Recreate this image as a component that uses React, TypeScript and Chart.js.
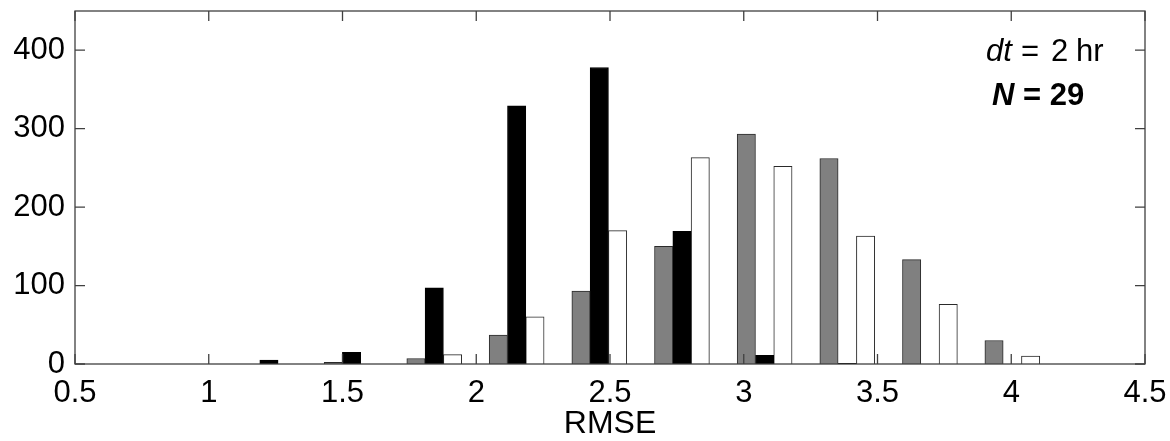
import React, { useEffect, useRef } from 'react';
import { Chart, registerables } from 'chart.js';

Chart.register(...registerables);

// Bin centers (RMSE) shared by the three histogram series
const binCenters = [1.225, 1.534, 1.843, 2.151, 2.46, 2.769, 3.078, 3.387, 3.696, 4.004];
const grayCounts = [0, 2, 7, 37, 93, 150, 293, 262, 133, 30];
const blackCounts = [5, 15, 97, 329, 378, 169, 11, 1, 0, 0];
const whiteCounts = [0, 0, 12, 60, 170, 263, 252, 163, 76, 10];

const xTickValues = [0.5, 1, 1.5, 2, 2.5, 3, 3.5, 4, 4.5];
const yTickValues = [0, 100, 200, 300, 400];
const xAxisTitle = 'RMSE';
const noteDtItalic = 'dt';
const noteDtRest = ['=', '2', 'hr'];
const noteNItalic = 'N';
const noteNRest = '= 29';

const FONT = '"Liberation Sans", Arial, Helvetica, sans-serif';

const toPoints = (vals: number[]) => vals.map((y, i) => ({ x: binCenters[i], y }));

const framePlugin = {
  id: 'frameTicks',
  afterDatasetsDraw(chart: any) {
    const { ctx, chartArea: a, scales } = chart;
    ctx.save();
    ctx.strokeStyle = '#404040';
    ctx.lineWidth = 1.3;
    ctx.strokeRect(a.left, a.top, a.right - a.left, a.bottom - a.top);
    const len = 10;
    ctx.beginPath();
    for (const v of xTickValues) {
      const px = scales.x.getPixelForValue(v);
      ctx.moveTo(px, a.bottom);
      ctx.lineTo(px, a.bottom - len);
      ctx.moveTo(px, a.top);
      ctx.lineTo(px, a.top + len);
    }
    for (const v of yTickValues) {
      const py = scales.y.getPixelForValue(v);
      ctx.moveTo(a.left, py);
      ctx.lineTo(a.left + len, py);
      ctx.moveTo(a.right, py);
      ctx.lineTo(a.right - len, py);
    }
    ctx.stroke();

    // annotations
    ctx.fillStyle = '#000';
    ctx.textBaseline = 'alphabetic';
    ctx.textAlign = 'left';
    const dtX = a.right - 159;
    const dtY = a.top + 50;
    ctx.font = `italic 31px ${FONT}`;
    ctx.fillText(noteDtItalic, dtX, dtY);
    ctx.font = `31px ${FONT}`;
    ctx.fillText(noteDtRest[0], dtX + 35, dtY);
    ctx.fillText(noteDtRest[1], dtX + 65, dtY);
    ctx.fillText(noteDtRest[2], dtX + 90, dtY);

    const nX = a.right - 153;
    const nY = a.top + 94;
    ctx.font = `italic bold 31px ${FONT}`;
    ctx.fillText(noteNItalic, nX, nY);
    const nw = ctx.measureText(noteNItalic + ' ').width;
    ctx.font = `bold 31px ${FONT}`;
    ctx.fillText(noteNRest, nX + nw, nY);
    ctx.restore();
  },
};

export default function App() {
  const canvasRef = useRef<HTMLCanvasElement | null>(null);

  useEffect(() => {
    const canvas = canvasRef.current;
    if (!canvas) return;
    const chart = new Chart(canvas, {
      type: 'bar',
      data: {
        datasets: [
          {
            label: 'gray',
            data: toPoints(grayCounts),
            backgroundColor: '#808080',
            borderColor: '#2a2a2a',
            borderWidth: 1,
          },
          {
            label: 'black',
            data: toPoints(blackCounts),
            backgroundColor: '#000000',
            borderColor: '#000000',
            borderWidth: 1,
          },
          {
            label: 'white',
            data: toPoints(whiteCounts),
            backgroundColor: '#ffffff',
            borderColor: '#2a2a2a',
            borderWidth: 1,
          },
        ] as any,
      },
      options: {
        responsive: false,
        animation: false,
        events: [],
        barThickness: 18.3,
        layout: { padding: { left: 0, right: 25, top: 11, bottom: 0 } },
        plugins: {
          legend: { display: false },
          tooltip: { enabled: false },
        },
        scales: {
          x: {
            type: 'linear',
            offset: false,
            min: 0.5,
            max: 4.5,
            grid: { display: false, drawTicks: false },
            border: { display: false },
            afterBuildTicks: (scale: any) => {
              scale.ticks = xTickValues.map((v) => ({ value: v }));
            },
            afterFit: (scale: any) => {
              scale.height = 77;
              scale.paddingLeft = 0;
              scale.paddingRight = 0;
            },
            ticks: {
              autoSkip: false,
              maxRotation: 0,
              padding: 11,
              color: '#000',
              font: { family: FONT, size: 31 },
              callback: (v: any) => String(v),
            },
            title: {
              display: true,
              text: xAxisTitle,
              color: '#000',
              font: { family: FONT, size: 32, lineHeight: 1.05 },
              padding: { top: 0, bottom: 0 },
            },
          },
          y: {
            type: 'linear',
            min: 0,
            max: 450,
            grid: { display: false, drawTicks: false },
            border: { display: false },
            afterBuildTicks: (scale: any) => {
              scale.ticks = yTickValues.map((v) => ({ value: v }));
            },
            afterFit: (scale: any) => {
              scale.width = 75;
              scale.paddingTop = 0;
              scale.paddingBottom = 0;
            },
            ticks: {
              padding: 10,
              color: '#000',
              font: { family: FONT, size: 31 },
              callback: (v: any) => String(v),
            },
          },
        },
      } as any,
      plugins: [framePlugin],
    });
    return () => chart.destroy();
  }, []);

  return (
    <div style={{ position: 'absolute', left: 0, top: 0, width: 1170, height: 441, background: '#fff' }}>
      <canvas ref={canvasRef} width={1170} height={441} style={{ display: 'block' }} />
    </div>
  );
}
